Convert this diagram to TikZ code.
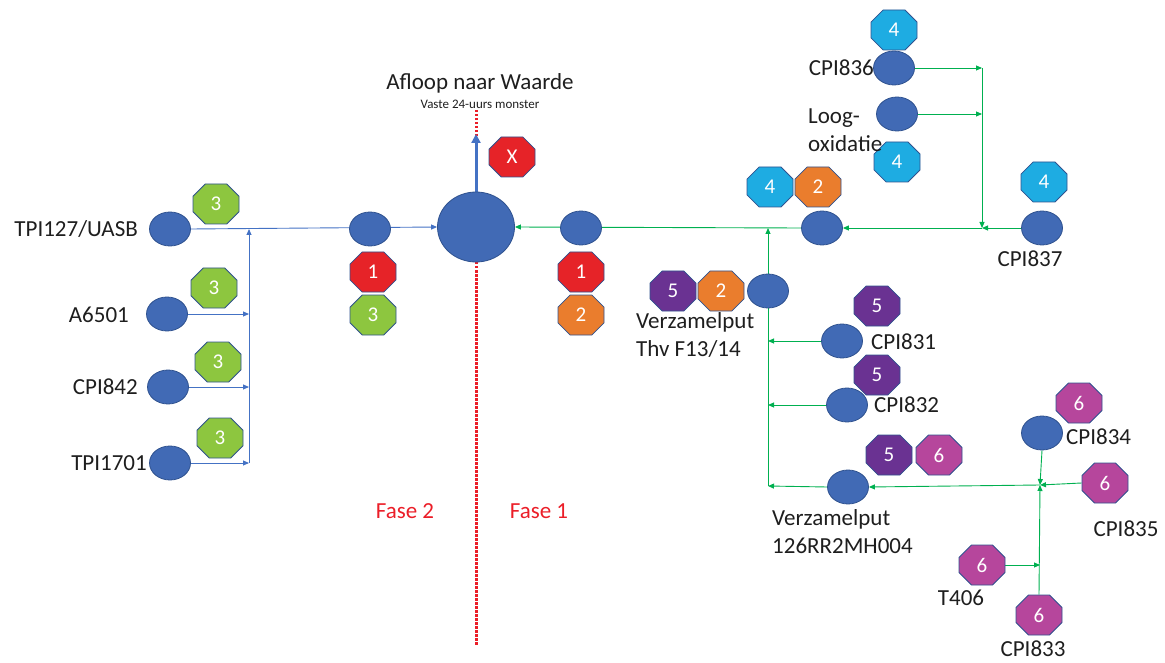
\documentclass[tikz,border=0pt]{standalone}
\usepackage{fontspec}
\setmainfont{Carlito}
\usetikzlibrary{shapes.misc,shapes.geometric,arrows.meta,backgrounds}
\definecolor{cblue}{RGB}{65,106,181}
\definecolor{cborder}{RGB}{47,82,143}
\definecolor{cgreenoct}{RGB}{141,198,63}
\definecolor{cred}{RGB}{230,35,40}
\definecolor{corange}{RGB}{234,125,45}
\definecolor{clblue}{RGB}{30,172,226}
\definecolor{cpurple}{RGB}{106,50,146}
\definecolor{cmagenta}{RGB}{182,70,156}
\definecolor{cline}{RGB}{68,114,196}
\definecolor{cgline}{RGB}{0,176,80}
\definecolor{cdot}{RGB}{235,30,40}
\definecolor{ctext}{RGB}{30,30,30}
\tikzset{
  pit/.style={ellipse, fill=cblue, draw=cborder, line width=0.8pt, minimum width=41pt, minimum height=34pt, inner sep=0pt},
  bigpit/.style={pit, minimum width=77pt, minimum height=70pt},
  oct/.style={chamfered rectangle, chamfered rectangle xsep=13.5pt, chamfered rectangle ysep=11.7pt,
     minimum width=46pt, minimum height=40pt, inner sep=0pt, draw=cborder, line width=0.8pt,
     text=white, font=\fontsize{21}{21}\selectfont},
  g3/.style={oct, fill=cgreenoct},
  r1/.style={oct, fill=cred},
  o2/.style={oct, fill=corange},
  b4/.style={oct, fill=clblue},
  p5/.style={oct, fill=cpurple},
  m6/.style={oct, fill=cmagenta},
  lbl/.style={text=ctext, inner sep=0pt, font=\fontsize{23}{28}\selectfont},
  fase/.style={text=cdot, inner sep=0pt, font=\fontsize{23}{28}\selectfont},
  bl/.style={draw=cline, line width=0.9pt, -{Triangle[length=6pt,width=5pt]}},
  bln/.style={draw=cline, line width=0.9pt},
  gl/.style={draw=cgline, line width=0.9pt, -{Triangle[length=6pt,width=5pt]}},
  gln/.style={draw=cgline, line width=0.9pt},
}
\begin{document}
\begin{tikzpicture}[x=1pt,y=-1pt]
\useasboundingbox (0,0) rectangle (1165,663);
% red divider
\coordinate (dtop) at (476,110);
\coordinate (dbot) at (476,645);
% pits
\node[bigpit] (big) at (476,227) {};
\node[pit] (tpi127) at (170,229) {};
\node[pit] (a6501) at (167,314) {};
\node[pit] (cpi842) at (168,387) {};
\node[pit] (tpi1701) at (170,463) {};
\node[pit] (m2) at (370,229) {};
\node[pit] (m1) at (581,228) {};
\node[pit] (mr1) at (822,228) {};
\node[pit] (cpi836) at (894,68) {};
\node[pit] (loog) at (897,114) {};
\node[pit] (cpi837) at (1042,228) {};
\node[pit] (vthv) at (768,291) {};
\node[pit] (cpi831) at (842,341) {};
\node[pit] (cpi832) at (847,405) {};
\node[pit] (v126) at (848,487) {};
\node[pit] (cpi834) at (1042,433) {};
% octagons
\node[g3] (o1) at (216,204) {3};
\node[g3] (o2) at (214,288) {3};
\node[g3] (o3) at (218,362) {3};
\node[g3] (o4) at (220,438) {3};
\node[r1] (o5) at (373,272) {1};
\node[g3] (o6) at (373,315) {3};
\node[r1] (ox) at (512,157) {X};
\node[r1] (o7) at (581,272) {1};
\node[o2] (o8) at (581,315) {2};
\node[b4] (o9) at (770,187) {4};
\node[o2] (o10) at (818,187) {2};
\node[b4] (o11) at (894,30) {4};
\node[b4] (o12) at (897,162) {4};
\node[b4] (o13) at (1044,182) {4};
\node[p5] (o14) at (673,291) {5};
\node[o2] (o15) at (721,291) {2};
\node[p5] (o16) at (877,306) {5};
\node[p5] (o17) at (877,375) {5};
\node[p5] (o18) at (889,455) {5};
\node[m6] (o19) at (939,455) {6};
\node[m6] (o20) at (1079,403) {6};
\node[m6] (cpi835o) at (1105,483) {6};
\node[m6] (t406o) at (982,565) {6};
\node[m6] (cpi833o) at (1039,615) {6};
% labels
\node[lbl] (tafloop) at (480,83) {Afloop naar Waarde};
\node[text=ctext, inner sep=0pt, font=\fontsize{13}{15}\selectfont] (tvaste) at (480,104) {Vaste 24-uurs monster};
\node[lbl, anchor=east] (ttpi127) at (138,229) {TPI127/UASB};
\node[lbl, anchor=east] (ta6501) at (129,315) {A6501};
\node[lbl, anchor=east] (tcpi842) at (138,387) {CPI842};
\node[lbl, anchor=east] (ttpi1701) at (147,463) {TPI1701};
\node[lbl, anchor=east] (tcpi836) at (874,68) {CPI836};
\node[lbl, anchor=west, align=left] (tloog) at (808,130) {Loog-\\oxidatie};
\node[lbl] (tcpi837) at (1030,259) {CPI837};
\node[lbl, anchor=west, align=left] (tvthv) at (636,335) {Verzamelput\\Thv F13/14};
\node[lbl, anchor=west] (tcpi831) at (871,342) {CPI831};
\node[lbl, anchor=west] (tcpi832) at (874,405) {CPI832};
\node[lbl, anchor=west] (tcpi834) at (1066,437) {CPI834};
\node[lbl] (tcpi835) at (1126,529) {CPI835};
\node[lbl, anchor=west, align=left] (tv126) at (772,532) {Verzamelput\\126RR2MH004};
\node[lbl] (tt406) at (961,598) {T406};
\node[lbl] (tcpi833) at (1033,649) {CPI833};
\node[fase] (tf2) at (405,511) {Fase 2};
\node[fase] (tf1) at (539,511) {Fase 1};
% junction coordinates
\coordinate (jl0) at (249,229);
\coordinate (jl3) at (249,463);
\coordinate (jr) at (982,228);
\coordinate (jrtop) at (982,68);
\coordinate (jg0) at (768,228);
\coordinate (jg3) at (768,486);
\coordinate (jb) at (1040,485);
\coordinate (up) at (476,134);
\begin{scope}[on background layer]
  \draw[cdot, line width=3pt, dash pattern=on 2.5pt off 1.5pt] (dtop) -- (dbot);
  % phase 2 (blue)
  \draw[bl] (tpi127.east) -- (big.west);
  \draw[bl] (jl3) -- (jl0);
  \draw[bl] (a6501.east) -- (a6501.east -| jl0);
  \draw[bl] (cpi842.east) -- (cpi842.east -| jl0);
  \draw[bl] (tpi1701.east) -- (jl3);
  \draw[draw=cline, line width=3pt, -{Triangle[length=9pt,width=9pt]}] (big.north) -- (up);
  % phase 1 (green)
  \draw[gl] (cpi837.west) -- (jr);
  \draw[gl] (cpi836.east) -- (cpi836.east -| jr);
  \draw[gl] (loog.east) -- (loog.east -| jr);
  \draw[gl] (jrtop) -- (jr);
  \draw[gl] (jr) -- (mr1.east);
  \draw[gl] (mr1.west) -- (big.east);
  \draw[gl] (vthv.north) -- (jg0);
  \draw[gln] (vthv.south) -- (jg3);
  \draw[gl] (cpi831.west) -- (cpi831.west -| jg0);
  \draw[gl] (cpi832.west) -- (cpi832.west -| jg0);
  \draw[gl] (v126.west) -- (jg3);
  \draw[gl] (cpi834.south) -- (jb);
  \draw[gl] (cpi835o.west) -- (jb);
  \draw[gl] (cpi833o.north) -- (jb);
  \draw[gl] (jb) -- (v126.east);
  \draw[gl] (t406o.east) -- (t406o.east -| jb);
\end{scope}
\end{tikzpicture}
\end{document}
